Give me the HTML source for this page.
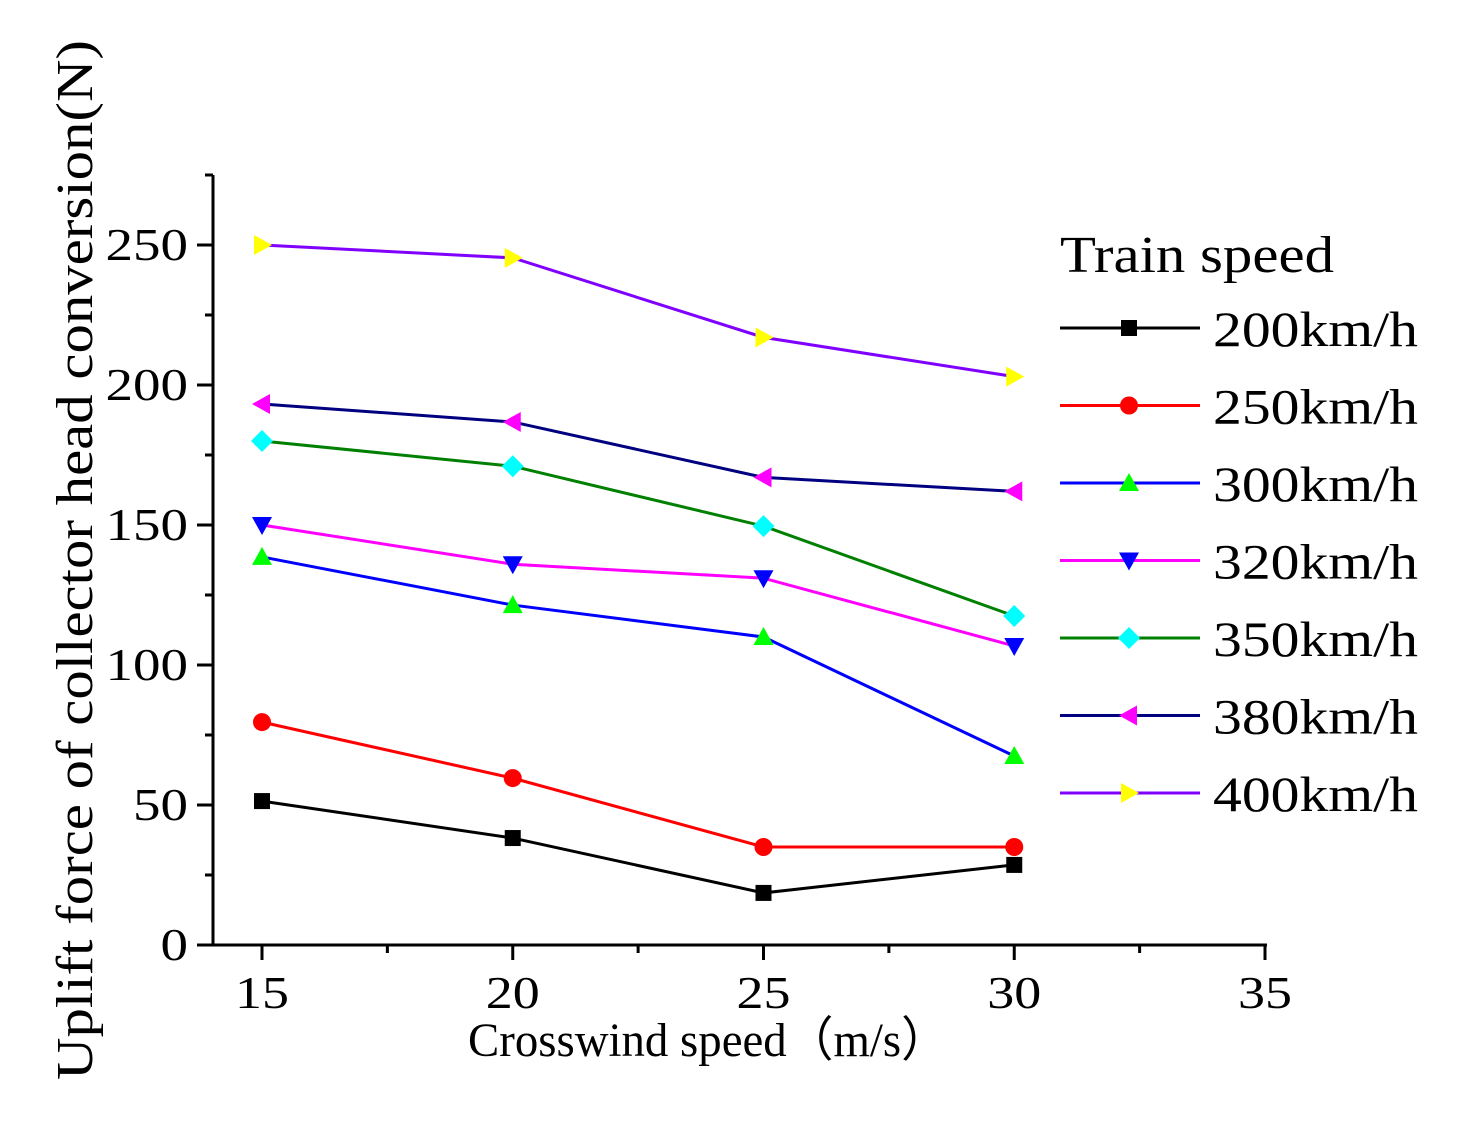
<!DOCTYPE html>
<html><head><meta charset="utf-8"><style>
body{margin:0;background:#fff}
svg text{font-family:"Liberation Serif","DejaVu Serif",serif;fill:#000}
</style></head><body>
<svg width="1458" height="1132">
<g id="axes"></g><g id="series"></g><g id="legend"></g>
<text x="468" y="1056" font-size="48" textLength="480" lengthAdjust="spacingAndGlyphs">Crosswind speed（m/s）</text>
<text transform="translate(92,1080) rotate(-90)" font-size="52" textLength="1040" lengthAdjust="spacingAndGlyphs">Uplift force of collector head conversion(N)</text>
</svg>
<script>
const categories=[15,20,25,30];
const seriesNames=["200km/h","250km/h","300km/h","320km/h","350km/h","380km/h","400km/h"];
const s200=[51.4,38.2,18.6,28.6];
const s250=[79.6,59.6,35,35];
const s300=[138.6,121.4,110,67.5];
const s320=[150,136,131,106.8];
const s350=[180,171,149.6,117.5];
const s380=[193.2,186.8,167,162];
const s400=[250,245.4,217,203];
const xTicks=[15,20,25,30,35];
const yTicks=[0,50,100,150,200,250];
const allSeries=[s200,s250,s300,s320,s350,s380,s400];
const lineColors=["#000","#ff0000","#0000ff","#ff00ff","#008000","#000080","#8000ff"];
const markColors=["#000","#ff0000","#00ff00","#0000ff","#00ffff","#ff00ff","#ffff00"];
const markShapes=["square","circle","up","down","diamond","left","right"];
const NS="http://www.w3.org/2000/svg";
const X=v=>262+(v-15)*50.15, Y=v=>945-v*2.8;
function mk(t,a,p){const e=document.createElementNS(NS,t);for(const k in a)e.setAttribute(k,a[k]);p.appendChild(e);return e;}
const ax=document.getElementById('axes');
let l=mk('line',{x1:213,y1:175,x2:213,y2:945,stroke:'#000','stroke-width':3},ax);

l=mk('line',{x1:197,y1:945,x2:1267,y2:945,stroke:'#000','stroke-width':3},ax);

for(let v=15;v<=35;v+=2.5){const maj=v%5===0;const t=mk('line',{x1:X(v),y1:945,x2:X(v),y2:maj?960:953,stroke:'#000','stroke-width':3},ax);
}
xTicks.forEach(v=>{const t=mk('text',{x:X(v)-27,y:1008,'font-size':46,textLength:54,lengthAdjust:'spacingAndGlyphs'},ax);t.textContent=v;
});
for(let v=0;v<=275;v+=25){const maj=v%50===0;const t=mk('line',{x1:maj?197:205,y1:Y(v),x2:213,y2:Y(v),stroke:'#000','stroke-width':3},ax);
}
yTicks.forEach(v=>{const s=String(v);const w=s.length*27.5;const t=mk('text',{x:188-w,y:Y(v)+15,'font-size':46,textLength:w,lengthAdjust:'spacingAndGlyphs'},ax);t.textContent=s;
});
function marker(shape,cx,cy,c,p){const r=9;let pts;
if(shape==='square')return mk('rect',{x:cx-8,y:cy-8,width:16,height:16,fill:c},p);
if(shape==='circle')return mk('circle',{cx,cy,r,fill:c},p);
if(shape==='up')pts=[[cx,cy-10],[cx-10,cy+8],[cx+10,cy+8]];
if(shape==='down')pts=[[cx,cy+10],[cx-10,cy-8],[cx+10,cy-8]];
if(shape==='left')pts=[[cx-10,cy],[cx+8,cy-10],[cx+8,cy+10]];
if(shape==='right')pts=[[cx+10,cy],[cx-8,cy-10],[cx-8,cy+10]];
if(shape==='diamond')pts=[[cx,cy-11],[cx+11,cy],[cx,cy+11],[cx-11,cy]];
return mk('polygon',{points:pts.map(q=>q.join(',')).join(' '),fill:c},p);}
const sg=document.getElementById('series');
allSeries.forEach((d,i)=>{
const pl=mk('polyline',{points:d.map((v,j)=>X(categories[j])+','+Y(v)).join(' '),fill:'none',stroke:lineColors[i],'stroke-width':3},sg);

d.forEach((v,j)=>{const m=marker(markShapes[i],X(categories[j]),Y(v),markColors[i],sg);
});});
const lg=document.getElementById('legend');
const tt=mk('text',{x:1060,y:272,'font-size':52,textLength:274,lengthAdjust:'spacingAndGlyphs'},lg);tt.textContent='Train speed';

seriesNames.forEach((n,i)=>{const y=328+i*77.5;
const e=mk('line',{x1:1060,y1:y,x2:1200,y2:y,stroke:lineColors[i],'stroke-width':3},lg);

const m=marker(markShapes[i],1129,y,markColors[i],lg);

const t=mk('text',{x:1213,y:y+18,'font-size':50,textLength:205,lengthAdjust:'spacingAndGlyphs'},lg);t.textContent=n;
});
</script>
</body></html>
